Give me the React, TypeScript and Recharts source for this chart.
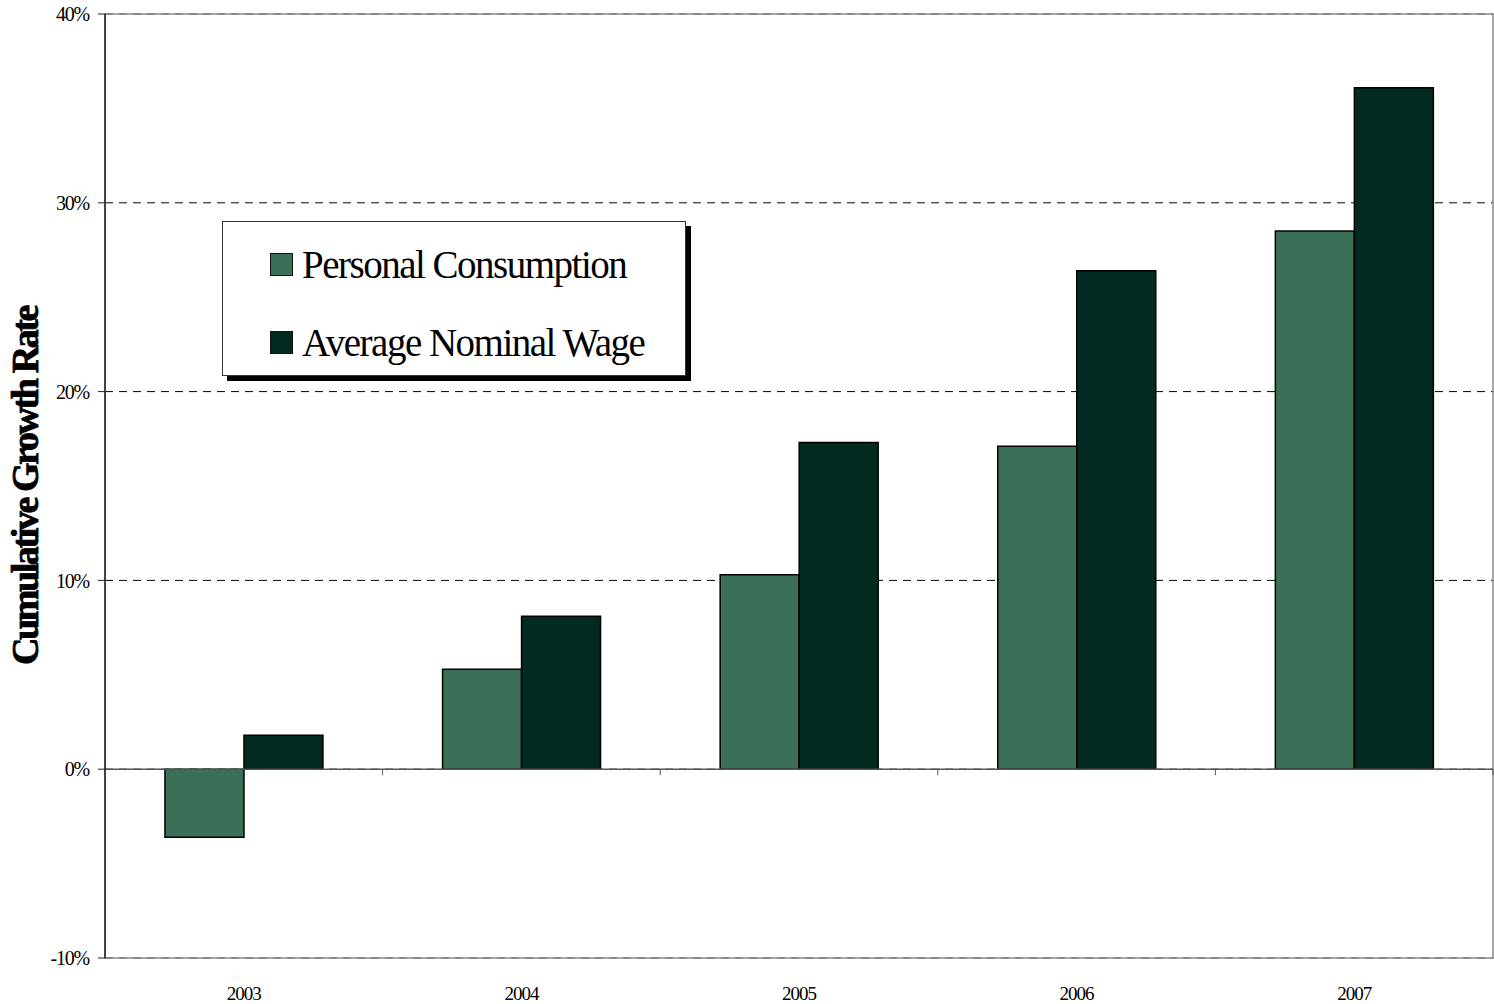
import { BarChart, Bar, XAxis, YAxis, CartesianGrid, ReferenceLine, ReferenceArea, Legend } from 'recharts';

const years = ['2003', '2004', '2005', '2006', '2007'];
const personalConsumption = [-3.6, 5.3, 10.3, 17.1, 28.5];
const averageNominalWage = [1.8, 8.1, 17.3, 26.4, 36.1];
const yTicks = [-10, 0, 10, 20, 30, 40];

const data = years.map((year, i) => ({
    year,
    pc: personalConsumption[i],
    wage: averageNominalWage[i],
}));

const W = 1494;
const H = 1004;
const M = { top: 14, right: 1, left: 0, bottom: 0 };
const Y_AXIS_W = 105;
const X_AXIS_H = 46;
const PLOT_W = W - M.left - M.right - Y_AXIS_W;
const PLOT_H = H - M.top - M.bottom - X_AXIS_H;
const Y_MIN = yTicks[0];
const Y_MAX = yTicks[yTicks.length - 1];
const ZERO_Y = M.top + (PLOT_H * Y_MAX) / (Y_MAX - Y_MIN);

const PC_COLOR = '#3c6f58';
const WAGE_COLOR = '#032a20';
const FONT = '"Liberation Serif", "Times New Roman", serif';

const XTick = ({ x, y, payload }: any) => {
    const band = PLOT_W / years.length;
    return (
        <g>
            <line x1={x + band / 2} x2={x + band / 2} y1={ZERO_Y} y2={ZERO_Y + 6} stroke="#555" />
            <text x={x} y={y + 34} textAnchor="middle" fontFamily={FONT} fontSize={19} letterSpacing={-1} fill="#000">
                {payload.value}
            </text>
        </g>
    );
};

const YLabel = ({ viewBox }: any) => {
    const cy = viewBox.y + viewBox.height / 2;
    return (
        <text
            x={25}
            y={cy}
            transform={`rotate(-90, 25, ${cy})`}
            textAnchor="middle"
            dominantBaseline="central"
            fontFamily={FONT}
            fontWeight={700}
            fontSize={38}
            letterSpacing={-2.4}
            fill="#000"
            stroke="#000"
            strokeWidth={0.8}
        >
            Cumulative Growth Rate
        </text>
    );
};

const LegendBox = () => {
    const items = [
        { name: 'Personal Consumption', color: PC_COLOR },
        { name: 'Average Nominal Wage', color: WAGE_COLOR },
    ];
    return (
        <div
            style={{
                width: 464,
                height: 155,
                boxSizing: 'border-box',
                border: '1px solid #333',
                background: '#fff',
                boxShadow: '5px 5px 0 #000',
                paddingLeft: 47,
                paddingTop: 3,
                fontFamily: FONT,
            }}
        >
            {items.map((item) => (
                <div key={item.name} style={{ display: 'flex', alignItems: 'center', height: 78 }}>
                    <span
                        style={{
                            display: 'inline-block',
                            width: 21,
                            height: 21,
                            background: item.color,
                            border: '1.5px solid #111',
                            marginRight: 9,
                            flexShrink: 0,
                        }}
                    />
                    <span style={{ fontSize: 39, letterSpacing: -1.5, color: '#000', whiteSpace: 'nowrap' }}>{item.name}</span>
                </div>
            ))}
        </div>
    );
};

export default function App() {
    return (
        <div style={{ position: 'absolute', left: 0, top: 0, background: '#fff' }}>
            <BarChart width={W} height={H} data={data} margin={M} barCategoryGap="21.6%" barGap={0}>
                <CartesianGrid vertical={false} stroke="#000" strokeDasharray="8 6" />
                <ReferenceArea y1={Y_MIN} y2={Y_MAX} fill="none" stroke="#8a8a8a" strokeWidth={1.5} ifOverflow="visible" />
                <XAxis dataKey="year" axisLine={false} tickLine={false} height={X_AXIS_H} tick={<XTick />} interval={0} />
                <YAxis
                    domain={[Y_MIN, Y_MAX]}
                    ticks={yTicks}
                    width={Y_AXIS_W}
                    tickFormatter={(v: number) => `${v}%`}
                    axisLine={{ stroke: '#222', strokeWidth: 1.5 }}
                    tickLine={{ stroke: '#222' }}
                    tickSize={7}
                    tickMargin={9}
                    tick={{ fontFamily: FONT, fontSize: 20, fill: '#000', letterSpacing: -1.2 }}
                    label={<YLabel />}
                />
                <ReferenceLine y={0} stroke="#555" strokeWidth={1.5} />
                <Legend
                    content={<LegendBox />}
                    layout="horizontal"
                    verticalAlign="middle"
                    align="center"
                    wrapperStyle={{ left: 222, top: 221, width: 'auto' }}
                />
                <Bar dataKey="pc" name="Personal Consumption" fill={PC_COLOR} stroke="#000" strokeWidth={1.5} isAnimationActive={false} />
                <Bar dataKey="wage" name="Average Nominal Wage" fill={WAGE_COLOR} stroke="#000" strokeWidth={1.5} isAnimationActive={false} />
            </BarChart>
        </div>
    );
}
